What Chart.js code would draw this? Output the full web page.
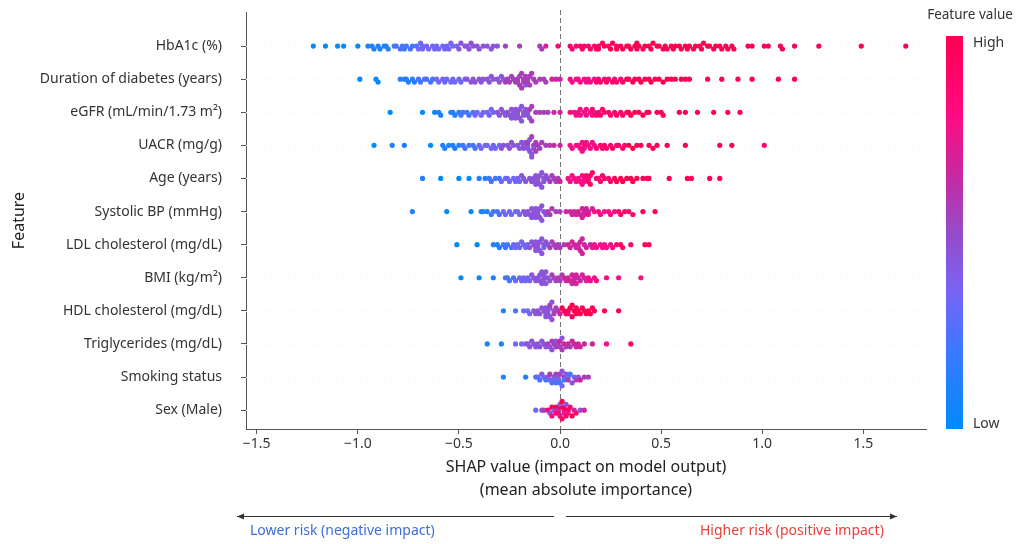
<!DOCTYPE html>
<html><head><meta charset="utf-8">
<script src="https://cdn.jsdelivr.net/npm/chart.js@4.4.1/dist/chart.umd.min.js"></script>
<style>html,body{margin:0;padding:0;background:#fff}#wrap{width:1016px;height:544px}</style>
</head><body><div id="wrap"><canvas id="c" width="1016" height="544"></canvas></div>
<script>
// ---------- DATA ----------
const features = ['HbA1c (%)','Duration of diabetes (years)','eGFR (mL/min/1.73 m²)','UACR (mg/g)','Age (years)','Systolic BP (mmHg)','LDL cholesterol (mg/dL)','BMI (kg/m²)','HDL cholesterol (mg/dL)','Triglycerides (mg/dL)','Smoking status','Sex (Male)'];
const xTickValues = [-1.5,-1,-0.5,0,0.5,1,1.5];
const xTickLabels = ['\u22121.5','\u22121.0','\u22120.5','0.0','0.5','1.0','1.5'];
// each point: [SHAP value, feature-value level 0 (low) .. 9 (high)]
const hba1c = [[-1.22,0],[-1.16,0],[-1.10,0],[-1.07,0],[-1.00,0],
[-0.95,1],[-0.93,1],[-0.92,1],[-0.90,1],[-0.89,1],[-0.87,1],[-0.86,1],[-0.85,1],
[-0.82,2],[-0.81,2],[-0.79,2],[-0.78,2],[-0.77,2],[-0.76,2],[-0.74,2],[-0.73,2],[-0.71,2],[-0.70,3],[-0.69,3],[-0.68,3],[-0.68,3],[-0.66,3],[-0.65,3],[-0.63,3],[-0.62,3],[-0.61,3],[-0.60,3],[-0.58,3],[-0.57,3],[-0.56,3],[-0.55,3],[-0.54,3],[-0.53,3],[-0.51,3],[-0.50,4],[-0.49,4],[-0.47,4],[-0.46,4],[-0.45,4],[-0.44,4],[-0.43,4],[-0.41,4],[-0.40,4],[-0.38,4],[-0.36,4],[-0.34,4],[-0.33,4],[-0.31,4],
[-0.27,5],[-0.20,5],[-0.10,5],[-0.09,5],[-0.07,6],[-0.01,8],
[0.05,8],[0.06,8],[0.08,8],[0.10,8],[0.11,8],[0.12,8],[0.14,8],[0.15,8],[0.17,8],[0.18,8],[0.19,8],[0.19,9],[0.21,8],[0.22,9],[0.24,8],[0.25,9],[0.26,9],[0.28,8],[0.28,9],[0.30,9],[0.31,9],[0.33,9],[0.34,9],[0.35,9],[0.37,9],[0.38,9],[0.38,9],[0.39,9],[0.41,9],[0.42,9],[0.44,9],[0.45,9],[0.46,9],[0.48,9],[0.49,9],[0.51,9],[0.52,9],[0.53,9],[0.55,9],[0.56,9],[0.57,9],[0.59,9],[0.60,9],[0.62,9],[0.63,9],[0.64,9],[0.66,9],[0.67,9],[0.69,9],[0.70,9],[0.71,9],[0.73,9],[0.74,9],[0.76,9],[0.77,9],[0.79,9],[0.80,9],[0.82,9],[0.83,9],[0.85,9],[0.86,9],
[0.93,9],[0.95,9],[1.01,9],[1.03,9],[1.09,9],[1.10,9],[1.16,9],[1.28,9],[1.49,9],[1.71,9]];
const duration = [[-0.99,0],[-0.91,0],[-0.90,0],[-0.79,1],[-0.77,1],[-0.76,1],[-0.75,1],[-0.73,1],[-0.72,1],[-0.70,2],[-0.69,2],[-0.67,2],[-0.66,2],[-0.64,2],[-0.63,2],[-0.61,3],[-0.60,3],[-0.58,3],[-0.57,3],[-0.56,3],[-0.54,3],[-0.53,3],[-0.52,3],[-0.50,3],[-0.49,3],[-0.47,3],[-0.46,4],[-0.44,4],[-0.43,4],[-0.42,4],[-0.40,4],[-0.39,4],[-0.38,4],[-0.36,4],[-0.35,4],[-0.34,4],[-0.33,4],[-0.31,4],[-0.30,4],[-0.29,4],[-0.28,4],[-0.27,5],[-0.26,5],[-0.25,5],[-0.24,5],[-0.23,5],[-0.22,5],[-0.21,5],[-0.21,5],[-0.20,5],[-0.20,5],[-0.19,5],[-0.19,5],[-0.18,5],[-0.18,5],[-0.17,5],[-0.17,4],[-0.16,5],[-0.16,5],[-0.15,5],[-0.15,5],[-0.14,5],[-0.13,5],[-0.12,5],[-0.10,5],[-0.08,5],[-0.07,5],[-0.04,6],[-0.02,6],[0.00,6],
[0.05,7],[0.06,7],[0.08,7],[0.09,7],[0.10,7],[0.12,7],[0.13,7],[0.14,7],[0.15,7],[0.17,7],[0.18,8],[0.19,8],[0.20,8],[0.22,8],[0.23,8],[0.24,8],[0.26,8],[0.27,8],[0.28,8],[0.30,8],[0.31,8],[0.33,9],[0.34,9],[0.36,9],[0.37,9],[0.39,9],[0.40,9],[0.42,9],[0.44,9],[0.45,9],[0.47,9],[0.49,9],[0.51,9],[0.53,9],[0.55,9],[0.57,9],[0.60,9],[0.62,9],[0.64,9],[0.73,9],[0.80,9],[0.88,9],[0.95,9],[1.08,9],[1.16,9]];
const egfr = [[-0.84,0],[-0.68,0],[-0.62,0],[-0.60,1],[-0.59,1],[-0.54,1],[-0.53,1],[-0.52,1],[-0.50,1],[-0.49,2],[-0.48,2],[-0.46,2],[-0.45,2],[-0.43,2],[-0.42,3],[-0.41,3],[-0.39,3],[-0.38,3],[-0.36,3],[-0.35,3],[-0.34,3],[-0.33,3],[-0.31,4],[-0.30,4],[-0.29,4],[-0.28,4],[-0.27,4],[-0.26,4],[-0.25,4],[-0.24,4],[-0.24,4],[-0.23,4],[-0.23,4],[-0.22,4],[-0.22,4],[-0.21,4],[-0.21,4],[-0.20,4],[-0.20,4],[-0.19,4],[-0.19,4],[-0.18,4],[-0.18,4],[-0.17,4],[-0.16,4],[-0.16,4],[-0.15,5],[-0.15,4],[-0.14,5],[-0.14,5],[-0.12,5],[-0.10,5],[-0.08,5],[-0.06,5],[-0.03,6],[0.00,6],
[0.05,7],[0.07,7],[0.08,7],[0.09,7],[0.10,7],[0.10,7],[0.12,7],[0.13,7],[0.13,7],[0.15,7],[0.16,7],[0.16,8],[0.17,7],[0.18,8],[0.19,8],[0.20,8],[0.21,8],[0.22,8],[0.24,8],[0.25,8],[0.27,8],[0.28,8],[0.30,8],[0.31,8],[0.33,8],[0.34,9],[0.35,9],[0.37,9],[0.39,9],[0.41,9],[0.43,9],[0.44,9],[0.48,9],[0.50,9],[0.51,9],[0.59,9],[0.62,9],[0.68,9],[0.76,9],[0.83,9],[0.89,9]];
const uacr = [[-0.92,0],[-0.83,1],[-0.77,1],[-0.64,0],[-0.58,1],[-0.57,1],[-0.55,1],[-0.53,1],[-0.52,1],[-0.50,1],[-0.48,2],[-0.47,2],[-0.45,2],[-0.43,2],[-0.42,2],[-0.40,3],[-0.39,3],[-0.37,3],[-0.36,3],[-0.34,3],[-0.33,3],[-0.32,3],[-0.30,3],[-0.29,4],[-0.28,4],[-0.26,4],[-0.25,4],[-0.24,4],[-0.23,4],[-0.21,4],[-0.20,4],[-0.19,4],[-0.18,4],[-0.18,4],[-0.17,4],[-0.16,4],[-0.16,4],[-0.16,5],[-0.15,4],[-0.15,4],[-0.14,4],[-0.14,5],[-0.14,4],[-0.13,5],[-0.13,4],[-0.12,5],[-0.12,5],[-0.11,5],[-0.10,5],[-0.09,5],[-0.07,5],[-0.05,5],[-0.03,6],[0.00,6],
[0.05,7],[0.06,7],[0.08,7],[0.09,7],[0.10,7],[0.11,7],[0.11,7],[0.12,7],[0.12,7],[0.13,7],[0.14,7],[0.15,7],[0.16,7],[0.17,7],[0.18,8],[0.20,8],[0.21,8],[0.22,8],[0.23,8],[0.25,8],[0.26,8],[0.28,8],[0.29,8],[0.31,8],[0.32,8],[0.34,9],[0.36,9],[0.38,9],[0.40,9],[0.44,9],[0.46,9],[0.48,9],[0.53,9],[0.62,9],[0.79,9],[0.85,9],[1.01,8]];
const age = [[-0.68,1],[-0.59,0],[-0.50,0],[-0.45,0],[-0.40,1],[-0.37,1],[-0.35,2],[-0.34,2],[-0.32,2],[-0.30,2],[-0.29,3],[-0.27,3],[-0.26,3],[-0.25,3],[-0.23,3],[-0.22,3],[-0.21,3],[-0.20,3],[-0.19,4],[-0.18,4],[-0.17,4],[-0.15,4],[-0.14,4],[-0.13,4],[-0.13,4],[-0.12,4],[-0.12,4],[-0.11,4],[-0.11,4],[-0.10,4],[-0.10,4],[-0.09,4],[-0.09,4],[-0.08,4],[-0.08,4],[-0.07,4],[-0.06,4],[-0.05,5],[-0.04,5],[-0.03,5],[-0.02,5],[-0.01,5],[0.00,6],
[0.04,7],[0.05,7],[0.06,7],[0.07,7],[0.08,7],[0.09,7],[0.10,7],[0.11,7],[0.11,7],[0.12,7],[0.12,7],[0.13,8],[0.14,8],[0.14,8],[0.15,8],[0.15,8],[0.16,8],[0.18,8],[0.19,8],[0.20,8],[0.21,8],[0.22,8],[0.24,8],[0.25,8],[0.27,9],[0.28,9],[0.30,9],[0.31,9],[0.33,9],[0.35,9],[0.36,9],[0.38,9],[0.41,9],[0.43,9],[0.44,9],[0.54,9],[0.63,9],[0.65,9],[0.74,9],[0.79,9]];
const sbp = [[-0.73,1],[-0.56,0],[-0.44,0],[-0.39,1],[-0.38,1],[-0.36,1],[-0.34,2],[-0.33,2],[-0.31,2],[-0.30,2],[-0.28,3],[-0.27,3],[-0.25,3],[-0.24,3],[-0.22,3],[-0.21,3],[-0.20,3],[-0.18,4],[-0.17,4],[-0.16,4],[-0.15,4],[-0.14,4],[-0.14,4],[-0.13,4],[-0.13,4],[-0.12,4],[-0.12,4],[-0.11,4],[-0.11,4],[-0.10,4],[-0.10,4],[-0.09,4],[-0.09,4],[-0.08,4],[-0.07,4],[-0.06,5],[-0.05,5],[-0.04,5],[-0.02,5],[0.00,5],
[0.03,6],[0.05,6],[0.06,6],[0.07,6],[0.08,6],[0.09,6],[0.10,6],[0.11,6],[0.11,6],[0.12,6],[0.12,6],[0.13,6],[0.14,6],[0.14,7],[0.16,6],[0.17,7],[0.19,7],[0.20,7],[0.22,7],[0.24,7],[0.25,7],[0.27,7],[0.29,8],[0.30,8],[0.32,8],[0.34,8],[0.36,8],[0.41,9],[0.47,9]];
const ldl = [[-0.51,0],[-0.41,0],[-0.33,1],[-0.31,1],[-0.30,1],[-0.28,2],[-0.27,2],[-0.26,2],[-0.24,2],[-0.23,3],[-0.22,3],[-0.21,3],[-0.20,3],[-0.19,3],[-0.18,3],[-0.17,3],[-0.16,3],[-0.15,4],[-0.14,4],[-0.13,4],[-0.12,4],[-0.12,4],[-0.12,4],[-0.11,4],[-0.11,4],[-0.10,4],[-0.10,4],[-0.09,4],[-0.09,4],[-0.08,4],[-0.08,3],[-0.07,4],[-0.06,4],[-0.05,5],[-0.04,5],[-0.03,5],[-0.02,5],[-0.01,5],[0.00,5],
[0.02,5],[0.04,6],[0.05,6],[0.06,6],[0.07,6],[0.08,6],[0.09,6],[0.09,6],[0.10,6],[0.10,6],[0.11,6],[0.11,6],[0.12,6],[0.13,6],[0.15,6],[0.16,6],[0.17,7],[0.18,7],[0.20,7],[0.21,7],[0.22,7],[0.23,7],[0.25,7],[0.26,7],[0.28,8],[0.30,8],[0.31,8],[0.35,8],[0.42,9],[0.44,9]];
const bmi = [[-0.49,0],[-0.40,0],[-0.33,1],[-0.27,2],[-0.26,2],[-0.25,2],[-0.23,2],[-0.22,3],[-0.20,3],[-0.19,3],[-0.18,3],[-0.17,3],[-0.16,3],[-0.15,3],[-0.14,4],[-0.13,4],[-0.12,4],[-0.11,4],[-0.10,4],[-0.10,4],[-0.09,4],[-0.09,4],[-0.08,4],[-0.08,4],[-0.08,4],[-0.07,4],[-0.07,4],[-0.06,4],[-0.05,4],[-0.04,5],[-0.03,5],[-0.02,5],[-0.01,5],[0.00,5],
[0.01,5],[0.02,6],[0.03,6],[0.04,6],[0.05,6],[0.06,6],[0.06,6],[0.07,6],[0.07,6],[0.08,6],[0.08,6],[0.09,6],[0.10,6],[0.11,6],[0.12,6],[0.13,6],[0.14,7],[0.15,7],[0.17,7],[0.18,7],[0.23,7],[0.29,7],[0.40,7]];
const hdl = [[-0.28,1],[-0.22,2],[-0.18,3],[-0.16,3],[-0.15,3],[-0.13,4],[-0.12,4],[-0.11,4],[-0.10,4],[-0.09,4],[-0.08,4],[-0.07,4],[-0.07,4],[-0.07,4],[-0.06,4],[-0.06,4],[-0.05,4],[-0.05,4],[-0.05,5],[-0.04,4],[-0.04,4],[-0.03,4],[-0.03,5],[-0.02,5],[-0.01,5],[0.00,6],
[0.01,9],[0.02,9],[0.03,9],[0.04,9],[0.04,8],[0.05,9],[0.06,9],[0.06,9],[0.07,9],[0.08,9],[0.08,9],[0.09,9],[0.10,9],[0.11,9],[0.12,9],[0.13,9],[0.14,9],[0.15,9],[0.16,9],[0.17,9],[0.22,9],[0.29,9]];
const tg = [[-0.36,1],[-0.29,1],[-0.22,3],[-0.19,3],[-0.17,3],[-0.16,4],[-0.15,4],[-0.14,4],[-0.13,4],[-0.12,4],[-0.11,4],[-0.10,4],[-0.09,4],[-0.08,4],[-0.07,4],[-0.06,5],[-0.05,4],[-0.04,5],[-0.04,4],[-0.03,5],[-0.02,5],[-0.02,4],[-0.01,5],[0.00,5],[0.00,6],[0.01,5],[0.01,4],[0.02,6],[0.03,5],[0.04,6],[0.05,5],[0.06,6],[0.07,6],[0.08,6],[0.09,6],[0.10,6],[0.12,6],[0.16,6],[0.23,7],[0.35,8]];
const smoking = [[-0.28,1],[-0.17,1],[-0.12,2],[-0.11,3],[-0.10,2],[-0.09,4],[-0.08,3],[-0.07,2],[-0.06,4],[-0.05,3],[-0.05,5],[-0.04,2],[-0.03,4],[-0.03,3],[-0.02,5],[-0.02,2],[-0.01,4],[-0.01,3],[0.00,5],[0.00,2],[0.01,4],[0.01,3],[0.02,5],[0.02,2],[0.03,4],[0.04,3],[0.04,5],[0.05,2],[0.06,4],[0.07,3],[0.08,5],[0.09,4],[0.10,6],[0.12,5],[0.14,5]];
const sex = [[-0.12,3],[-0.09,4],[-0.08,5],[-0.06,8],[-0.05,4],[-0.04,9],[-0.04,7],[-0.03,4],[-0.02,8],[-0.02,9],[-0.01,5],[-0.01,8],[0.00,9],[0.00,7],[0.00,4],[0.01,8],[0.01,9],[0.02,8],[0.02,6],[0.02,9],[0.03,8],[0.03,4],[0.04,9],[0.04,7],[0.05,8],[0.06,9],[0.07,6],[0.08,8],[0.10,4],[0.12,6]];
const rows = [hba1c, duration, egfr, uacr, age, sbp, ldl, bmi, hdl, tg, smoking, sex];

// ---------- STYLE ----------
const FONT = '"Noto Sans", sans-serif';
const LEVEL_MAX = 9, BIN = 0.025, STEP = 0.088;
const cmapStops = [[0,[0,138,250]],[0.2,[60,120,255]],[0.35,[120,100,245]],[0.5,[150,75,200]],[0.65,[200,40,160]],[0.8,[255,10,130]],[1,[255,0,82]]];
function cmap(t){
  for (let i=1;i<cmapStops.length;i++){
    const [t1,c1]=cmapStops[i-1],[t2,c2]=cmapStops[i];
    if (t<=t2){ const u=(t-t1)/(t2-t1); return `rgb(${c1.map((v,k)=>Math.round(v+(c2[k]-v)*u)).join(',')})`; }
  }
  return `rgb(${cmapStops[cmapStops.length-1][1].join(',')})`;
}
// beeswarm layering (layout only): points sharing a bin are stacked alternately
function swarm(xs){
  const idx = xs.map((v,i)=>i).sort((a,b)=>xs[a]-xs[b]);
  const offs = new Array(xs.length).fill(0);
  let lastBin = null, layer = 0;
  for (const i of idx){
    const b = Math.round(xs[i]/BIN);
    if (b !== lastBin) layer = 0;
    offs[i] = Math.ceil(layer/2) * ((layer%2)*2-1);
    layer++; lastBin = b;
  }
  return offs;
}
const datasets = rows.map((pts, r) => {
  const offs = swarm(pts.map(p=>p[0]));
  return {
    data: pts.map((p,i)=>({x:p[0], y:r + offs[i]*STEP})),
    pointBackgroundColor: pts.map(p=>cmap(p[1]/LEVEL_MAX)),
    pointRadius: 2.6, pointBorderWidth: 0, pointHoverRadius: 2.6
  };
});

const decor = {
  id: 'decor',
  beforeDatasetsDraw(chart){
    const {ctx, chartArea:a, scales:{x,y}} = chart;
    ctx.save();
    ctx.strokeStyle = '#f0f0f0'; ctx.lineWidth = 1; ctx.setLineDash([1,5]);
    features.forEach((f,i)=>{ const py = Math.round(y.getPixelForValue(i))+0.5; ctx.beginPath(); ctx.moveTo(a.left,py); ctx.lineTo(a.right,py); ctx.stroke(); });
    const px = Math.round(x.getPixelForValue(0))+0.5;
    ctx.strokeStyle = '#777'; ctx.setLineDash([5,3]);
    ctx.beginPath(); ctx.moveTo(px, a.top-2); ctx.lineTo(px, a.bottom); ctx.stroke();
    ctx.restore();
  },
  afterDraw(chart){
    const {ctx, chartArea:a} = chart;
    ctx.save();
    // colour bar
    const cbx = 946, cbw = 17, cbt = 36, cbb = a.bottom;
    const g = ctx.createLinearGradient(0, cbb, 0, cbt);
    cmapStops.forEach(([t,c])=>g.addColorStop(t, `rgb(${c.join(',')})`));
    ctx.fillStyle = g; ctx.fillRect(cbx, cbt, cbw, cbb-cbt);
    ctx.fillStyle = '#333'; ctx.font = `14px ${FONT}`; ctx.textBaseline = 'middle'; ctx.textAlign = 'left';
    ctx.fillText('High', 973, 43); ctx.fillText('Low', 973, 424);
    ctx.textAlign = 'center'; ctx.font = `13.5px ${FONT}`; ctx.fillText('Feature value', 970, 15);
    // direction arrows
    ctx.strokeStyle = '#333'; ctx.fillStyle = '#333'; ctx.lineWidth = 1;
    function arrow(x1,x2,y){
      ctx.beginPath(); ctx.moveTo(x1,y); ctx.lineTo(x2,y); ctx.stroke();
      const d = Math.sign(x2-x1);
      ctx.beginPath(); ctx.moveTo(x2,y); ctx.lineTo(x2-d*7,y-3); ctx.lineTo(x2-d*7,y+3); ctx.closePath(); ctx.fill();
    }
    arrow(554, 237, 516.5); arrow(566, 897, 516.5);
    ctx.font = `14px ${FONT}`; ctx.textAlign = 'left';
    ctx.fillStyle = '#3d6dd9'; ctx.fillText('Lower risk (negative impact)', 250, 531);
    ctx.fillStyle = '#e8403a'; ctx.fillText('Higher risk (positive impact)', 700, 531);
    ctx.restore();
  }
};

new Chart(document.getElementById('c'), {
  type: 'scatter',
  data: {datasets},
  options: {
    responsive: false, animation: false, devicePixelRatio: 1, events: [],
    layout: {padding: {top: 12, right: 90, left: 0, bottom: 0}},
    plugins: {legend: {display: false}, tooltip: {enabled: false}},
    scales: {
      x: {
        type: 'linear', min: -1.553, max: 1.81,
        afterFit: s => { s.height = 115; s.paddingLeft = 0; s.paddingRight = 0; },
        afterBuildTicks: s => { s.ticks = xTickValues.map(v=>({value:v})); },
        ticks: {callback: (v,i)=>xTickLabels[i], font: {family: FONT, size: 14}, color: '#333', padding: 2, maxRotation: 0, autoSkip: false},
        grid: {drawOnChartArea: false, drawTicks: true, tickLength: 5, tickColor: '#555'},
        border: {display: true, color: '#555', width: 1},
        title: {display: true, text: ['SHAP value (impact on model output)','(mean absolute importance)'], font: {family: FONT, size: 16, lineHeight: 1.45}, color: '#222', padding: {top: 0, bottom: 42}}
      },
      y: {
        type: 'linear', reverse: true, min: -1.03, max: 11.57,
        afterFit: s => { s.width = 246; s.paddingTop = 0; s.paddingBottom = 0; },
        afterBuildTicks: s => { s.ticks = features.map((f,i)=>({value:i})); },
        ticks: {callback: (v,i)=>features[i], font: {family: FONT, size: 14}, color: '#333', padding: 19, autoSkip: false},
        grid: {drawOnChartArea: false, drawTicks: true, tickLength: 5, tickColor: '#555'},
        border: {display: true, color: '#555', width: 1},
        title: {display: true, text: 'Feature', font: {family: FONT, size: 16}, color: '#222', padding: {top: 10, bottom: 0}}
      }
    }
  },
  plugins: [decor]
});
</script></body></html>
